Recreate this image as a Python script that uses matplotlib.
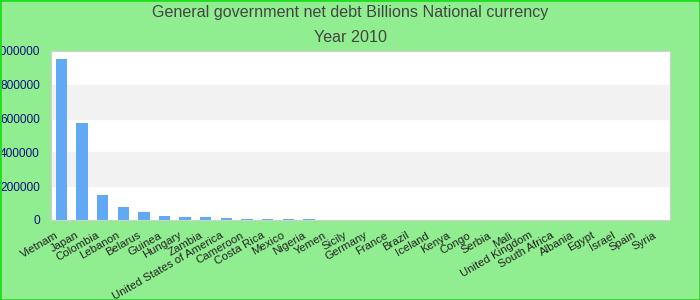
import matplotlib
matplotlib.use("Agg")
import matplotlib.pyplot as plt
from matplotlib.patches import Rectangle
from matplotlib.transforms import ScaledTranslation

countries = ["Vietnam", "Japan", "Colombia", "Lebanon", "Belarus", "Guinea", "Hungary",
             "Zambia", "United States of America", "Cameroon", "Costa Rica", "Mexico",
             "Nigeria", "Yemen", "Sicily", "Germany", "France", "Brazil", "Iceland", "Kenya",
             "Congo", "Serbia", "Mali", "United Kingdom", "South Africa", "Albania", "Egypt",
             "Israel", "Spain", "Syria"]
values = [950000, 575000, 148000, 77000, 47000, 24000, 17000, 17000, 12000, 5000,
          4000, 4000, 3500, 1000, 800, 700, 600, 500, 400, 300, 250, 200, 150, 120,
          100, 80, 60, 40, 30, 20]
yticks = [0, 200000, 400000, 600000, 800000, 1000000]

plt.rcParams['font.family'] = ['Liberation Sans', 'DejaVu Sans']
fig = plt.figure(figsize=(7, 3), dpi=100, facecolor='#90EE90')
fig.patches.append(Rectangle((0, 0), 1, 1, transform=fig.transFigure, fill=False,
                             edgecolor='#22DD22', linewidth=2))
ax = fig.add_axes([51/700, 80/300, 619/700, 169/300])
ax.set_facecolor('white')
n = len(countries)
ax.set_xlim(-0.5, n - 0.5)
ax.set_ylim(0, 1000000)
for i in range(len(yticks) - 1):
    if i % 2 == 1:
        ax.axhspan(yticks[i], yticks[i+1], color='#F2F2F2', zorder=0)
ax.bar(range(n), values, width=0.55, color='#62A9F5', zorder=2)
ax.set_yticks(yticks)
ax.set_yticklabels([str(v) for v in yticks], color='#101080', fontsize=8.6)
ax.set_xticks(range(n))
ax.set_xticklabels(countries, rotation=30, ha='right', va='center', rotation_mode='anchor',
                   fontsize=8.2, color='#222222')
ax.tick_params(axis='y', length=0, pad=8)
ax.tick_params(axis='x', length=0, pad=10.5)
shift = ScaledTranslation(-4/100, 0, fig.dpi_scale_trans)
for lbl in ax.get_xticklabels():
    lbl.set_transform(lbl.get_transform() + shift)
for s in ax.spines.values():
    s.set_color('#D0D0D0')
fig.text(0.5, 1 - 13/300, "General government net debt Billions National currency",
         ha='center', va='center', fontsize=11.6, color='#444444')
fig.text(0.5, 1 - 37/300, "Year 2010", ha='center', va='center', fontsize=11.6, color='#444444')
fig.savefig("out.png", dpi=100, facecolor=fig.get_facecolor())
